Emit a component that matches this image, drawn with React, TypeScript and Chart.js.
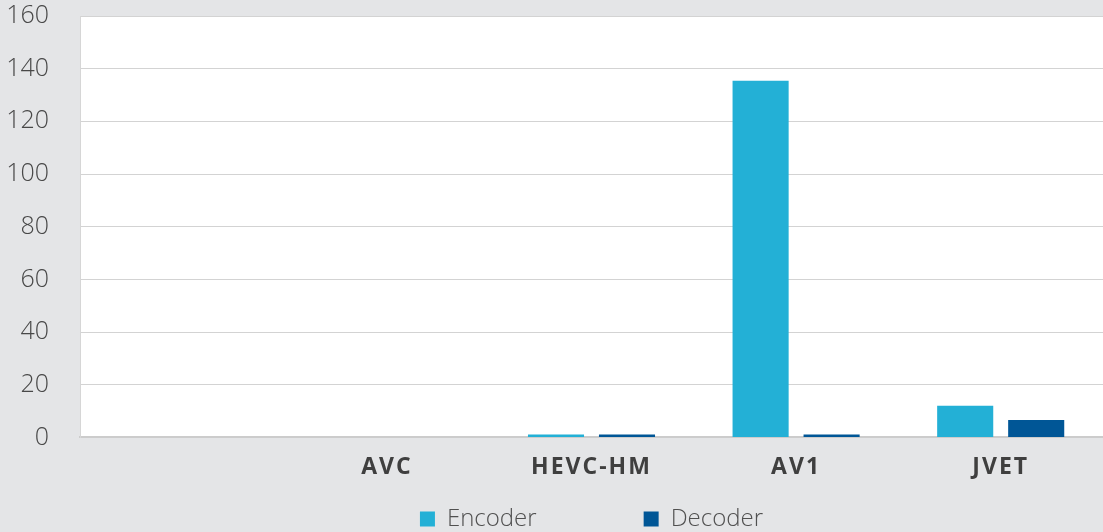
import React, { useEffect, useRef } from "react";
import { Chart, registerables } from "chart.js";

Chart.register(...registerables);

const categories = ["", "AVC", "HEVC-HM", "AV1", "JVET"];
const encoderValues = [null, 0, 1.1, 135.4, 12];
const decoderValues = [null, 0, 1.1, 1.1, 6.6];
const yTicks = [0, 20, 40, 60, 80, 100, 120, 140, 160];

const FONT = "'Open Sans', 'DejaVu Sans', sans-serif";
const LEGEND_PAD = 107;

const bgPlugin = {
  id: "bgPlugin",
  beforeDraw(chart: any) {
    const { ctx, chartArea, width, height } = chart;
    ctx.save();
    ctx.fillStyle = "#e4e5e7";
    ctx.fillRect(0, 0, width, height);
    ctx.fillStyle = "#ffffff";
    ctx.fillRect(chartArea.left, chartArea.top, chartArea.right - chartArea.left, chartArea.bottom - chartArea.top);
    ctx.restore();
  },
  afterDatasetsDraw(chart: any) {
    (chart.ctx as any).letterSpacing = "2px";
  },
  afterDraw(chart: any) {
    (chart.ctx as any).letterSpacing = "0px";
  },
};

const legendShift = {
  id: "legendShift",
  afterLayout(chart: any) {
    const lg = chart.legend;
    if (!lg) return;
    lg.top = chart.height - 25 - LEGEND_PAD;
    lg.bottom = chart.height + 30;
    lg.height = lg.bottom - lg.top;
  },
};

export default function App() {
  const ref = useRef<HTMLCanvasElement | null>(null);
  useEffect(() => {
    document.body.style.margin = "0";
    if (!ref.current) return;
    const chart = new Chart(ref.current, {
      type: "bar",
      data: {
        labels: categories,
        datasets: [
          { label: "Encoder", data: encoderValues, backgroundColor: "#23b0d6", borderWidth: 0 },
          { label: "Decoder", data: decoderValues, backgroundColor: "#005696", borderWidth: 0 },
        ],
      },
      plugins: [bgPlugin, legendShift],
      options: {
        animation: false,
        responsive: false,
        maintainAspectRatio: false,
        layout: { padding: { left: 0, right: -2, top: 0, bottom: 0 } },
        datasets: { bar: { categoryPercentage: 0.694, barPercentage: 0.79 } },
        scales: {
          x: {
            grid: { display: false, drawTicks: false },
            border: { display: true, color: "#cccccc", width: 2 },
            ticks: {
              z: 1,
              padding: 16,
              color: "#3f3f3f",
              font: { family: FONT, size: 23, weight: "bold" },
            },
          },
          y: {
            min: 0,
            max: 160,
            afterFit: (axis: any) => {
              axis.width = 80;
              axis.paddingTop = 16;
              axis.paddingBottom = 15;
            },
            afterBuildTicks: (axis: any) => {
              axis.ticks = yTicks.map((v) => ({ value: v }));
            },
            grid: { color: "#d3d3d3", lineWidth: 1, drawTicks: false },
            border: { display: true, color: "#d6d6d6", width: 1 },
            ticks: {
              padding: 31,
              color: "#484848",
              font: { family: FONT, size: 25, weight: 300 },
            },
          },
        },
        plugins: {
          tooltip: { enabled: false },
          legend: {
            position: "bottom",
            fullSize: false,
            maxHeight: 35,
            labels: {
              boxWidth: 15,
              boxHeight: 15,
              padding: LEGEND_PAD,
              color: "#505050",
              font: { family: FONT, size: 24, weight: 300 },
            },
          },
        },
      },
    });
    return () => chart.destroy();
  }, []);
  return (
    <div style={{ width: 1103, height: 532 }}>
      <canvas ref={ref} width={1103} height={532} />
    </div>
  );
}
